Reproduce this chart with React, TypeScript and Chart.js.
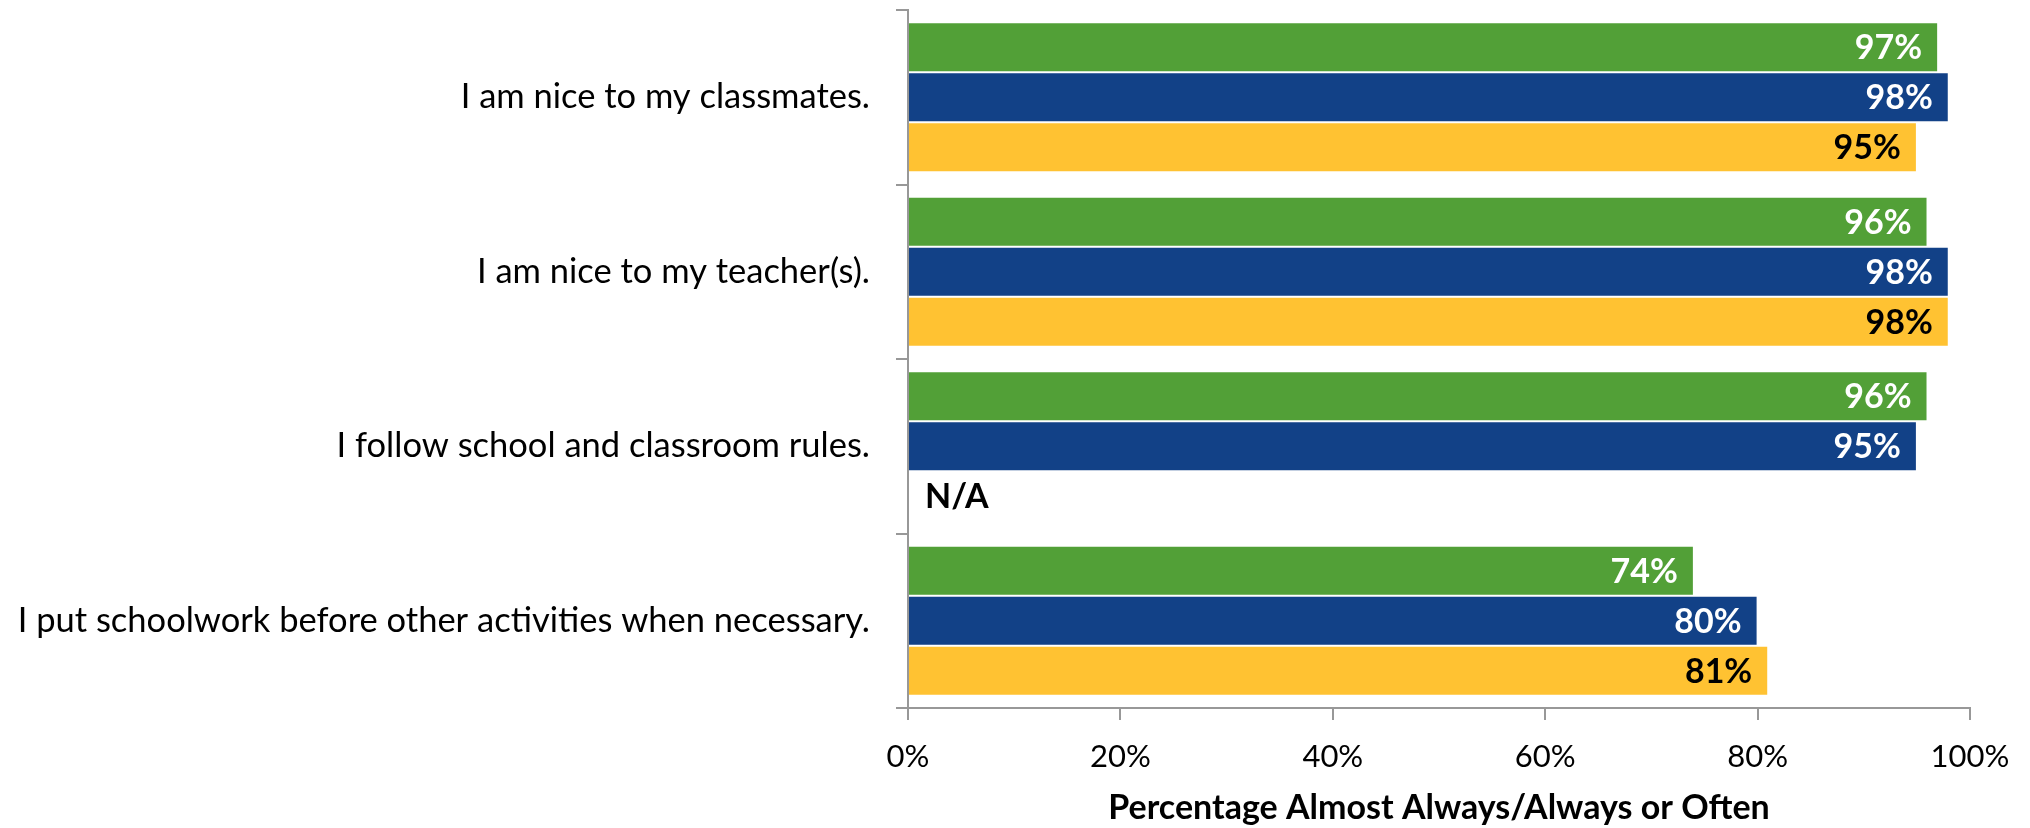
import React, { useEffect, useRef } from "react";
import { Chart, registerables } from "chart.js";

Chart.register(...registerables);

const categories = [
  "I am nice to my classmates.",
  "I am nice to my teacher(s).",
  "I follow school and classroom rules.",
  "I put schoolwork before other activities when necessary.",
];
const seriesNames = ["Series A", "Series B", "Series C"];
const greenValues: (number | null)[] = [97, 96, 96, 74];
const blueValues: (number | null)[] = [98, 98, 95, 80];
const yellowValues: (number | null)[] = [95, 98, null, 81];
const xTicks = [0, 20, 40, 60, 80, 100];
const axisTitle = "Percentage Almost Always/Always or Often";
const missingLabel = "N/A";

const FONT = "Lato";
const colors = ["#52A037", "#124187", "#FFC232"];
const labelColors = ["#FFFFFF", "#FFFFFF", "#000000"];

const labelPlugin = {
  id: "barLabels",
  afterDatasetsDraw(chart: any) {
    const ctx = chart.ctx;
    ctx.save();
    ctx.font = `bold 34px ${FONT}`;
    ctx.textBaseline = "middle";
    chart.data.datasets.forEach((ds: any, di: number) => {
      const meta = chart.getDatasetMeta(di);
      meta.data.forEach((el: any, i: number) => {
        const v = ds.data[i];
        if (v === null || v === undefined) {
          ctx.fillStyle = "#000000";
          ctx.textAlign = "left";
          ctx.fillText(missingLabel, chart.chartArea.left + 17, el.y + 1);
        } else {
          ctx.fillStyle = labelColors[di];
          ctx.textAlign = "right";
          ctx.fillText(`${v}%`, el.x - 16, el.y + 1);
        }
      });
    });
    ctx.restore();
  },
};

export default function App() {
  const ref = useRef<HTMLCanvasElement>(null);
  useEffect(() => {
    document.body.style.margin = "0";
    const datasets = [greenValues, blueValues, yellowValues].map((d, i) => ({
      label: seriesNames[i],
      data: d,
      backgroundColor: colors[i],
      borderColor: "rgba(255,255,255,0.35)",
      borderWidth: 1,
      categoryPercentage: 0.86,
      barPercentage: 1,
    }));
    const chart = new Chart(ref.current!, {
      type: "bar",
      data: { labels: categories, datasets },
      plugins: [labelPlugin],
      options: {
        indexAxis: "y",
        animation: false,
        responsive: false,
        maintainAspectRatio: false,
        layout: { padding: { left: 0, right: 60, top: 10, bottom: 0 } },
        plugins: { legend: { display: false }, tooltip: { enabled: false } },
        scales: {
          x: {
            min: 0,
            max: 100,
            afterBuildTicks: (s: any) => {
              s.ticks = xTicks.map((v) => ({ value: v }));
            },
            afterFit: (s: any) => {
              s.height = 120;
            },
            border: { color: "#989898", width: 2 },
            grid: {
              drawOnChartArea: false,
              drawTicks: true,
              tickLength: 12,
              color: "#989898",
              lineWidth: 2,
            },
            ticks: {
              color: "#000",
              padding: 18,
              font: { family: FONT, size: 31 },
              callback: (v: any) => `${v}%`,
              maxRotation: 0,
            },
            title: {
              display: true,
              text: axisTitle,
              color: "#000",
              font: { family: FONT, size: 34, weight: "bold" },
              padding: { top: 4, bottom: 0 },
            },
          },
          y: {
            afterFit: (s: any) => {
              s.width = 908;
              s.paddingTop = 0;
              s.paddingBottom = 0;
            },
            border: { color: "#989898", width: 2 },
            grid: {
              drawOnChartArea: false,
              drawTicks: true,
              tickLength: 12,
              color: "#989898",
              lineWidth: 2,
              offset: true,
            },
            ticks: {
              color: "#000",
              padding: 26,
              font: { family: FONT, size: 34.5 },
            },
          },
        },
      },
    } as any);
    return () => chart.destroy();
  }, []);
  return (
    <div style={{ width: 2030, height: 828 }}>
      <canvas ref={ref} width={2030} height={828} style={{ width: 2030, height: 828 }} />
    </div>
  );
}
